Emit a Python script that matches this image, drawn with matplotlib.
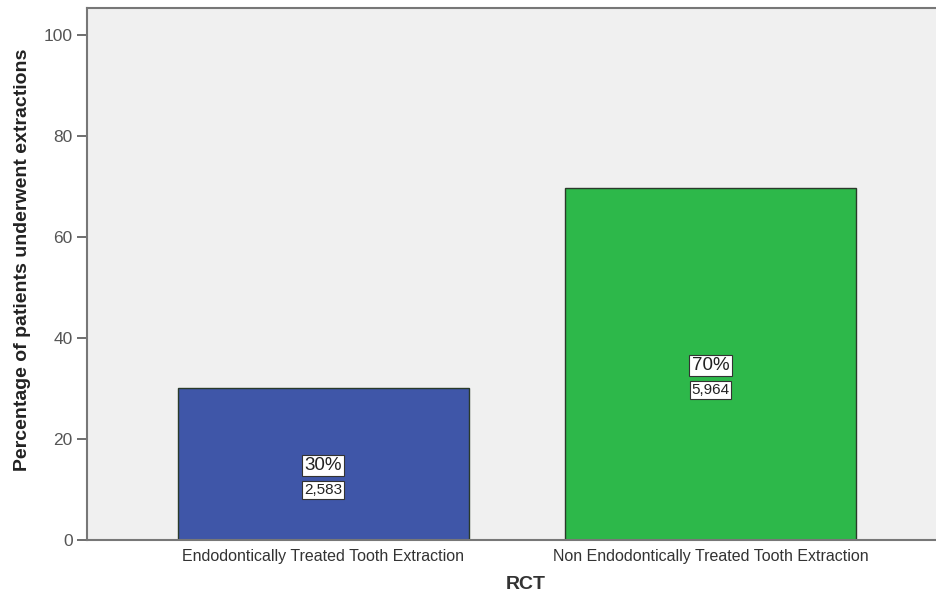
import matplotlib
matplotlib.use("Agg")
import matplotlib.pyplot as plt

plt.rcParams["font.family"] = ["Liberation Sans", "DejaVu Sans"]

categories = ["Endodontically Treated Tooth Extraction",
              "Non Endodontically Treated Tooth Extraction"]
counts = [2583, 5964]
percent_labels = ["30%", "70%"]
count_labels = ["2,583", "5,964"]
colors = ["#3f56a8", "#2db84a"]

total = sum(counts)
percents = [c / total * 100 for c in counts]

fig = plt.figure(figsize=(9.37, 5.95), dpi=100)
ax = fig.add_axes([0.093, 0.092, 0.907, 0.8946])
ax.set_facecolor("#f0f0f0")

x = range(len(categories))
ax.bar(x, percents, width=0.75, color=colors, edgecolor="#2a3a2a", linewidth=1.0, zorder=2)

box = dict(boxstyle="square,pad=0.12", facecolor="white", edgecolor="#333333", linewidth=0.8)
for xi, p, pl, cl in zip(x, percents, percent_labels, count_labels):
    ax.text(xi, p / 2 - 0.3, pl, ha="center", va="center", fontsize=13.5, color="#222222",
            bbox=box, zorder=3)
    ax.text(xi, p / 2 - 5.2, cl, ha="center", va="center", fontsize=11, color="#222222",
            bbox=box, zorder=3)

ax.set_xlim(-0.61, 1.585)
ax.set_ylim(0, 105.35)
ax.set_yticks([0, 20, 40, 60, 80, 100])
ax.set_xticks(list(x))
ax.set_xticklabels(categories, fontsize=11.5, color="#333333")
ax.tick_params(axis="y", labelsize=12.5, labelcolor="#555555", color="#555555", length=7, width=1.2)
ax.tick_params(axis="x", length=0, pad=6)

for side in ["left", "bottom", "top"]:
    ax.spines[side].set_color("#777777")
    ax.spines[side].set_linewidth(1.5)
ax.spines["right"].set_visible(False)

ax.set_xlabel("RCT", fontsize=14, fontweight="bold", color="#333333")
ax.xaxis.set_label_coords(0.516, -0.068)
ax.set_ylabel("Percentage of patients underwent extractions", fontsize=14,
              fontweight="bold", color="#222222")
ax.yaxis.set_label_coords(-0.066, 0.527)

fig.savefig("out.png", dpi=100)
